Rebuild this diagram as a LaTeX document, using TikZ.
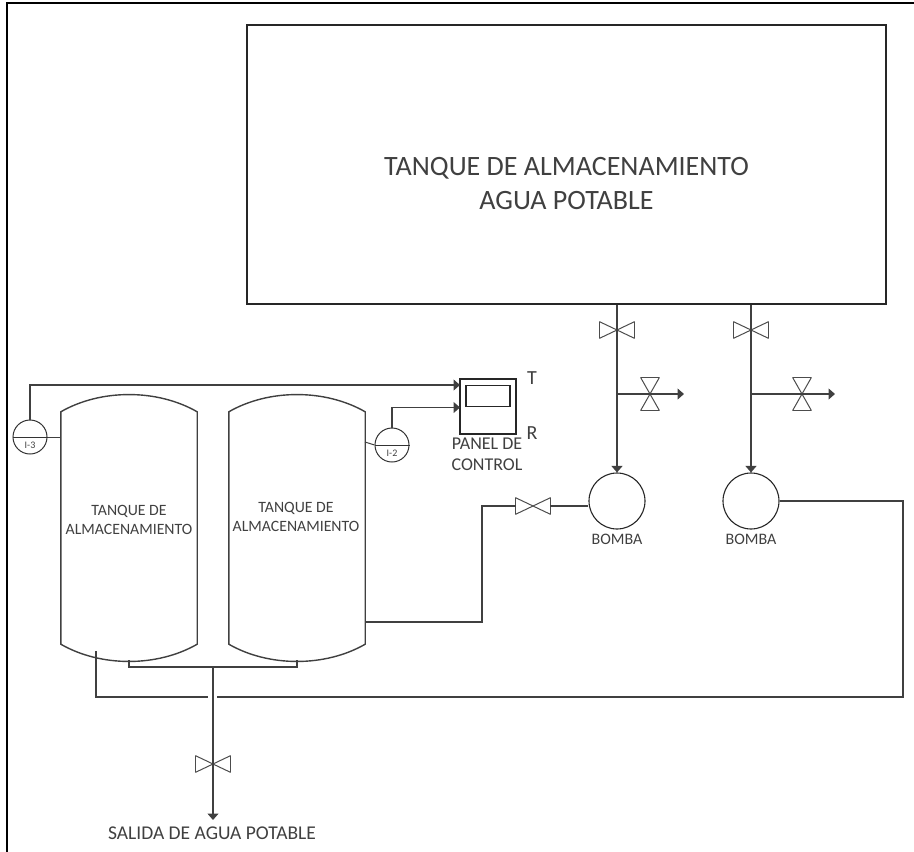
\documentclass[tikz,border=0pt]{standalone}
\usepackage{fontspec}
\setmainfont{Carlito}
\usetikzlibrary{arrows.meta}
\usetikzlibrary{positioning}
\begin{document}
\begin{tikzpicture}[
  x=1pt, y=-1pt,
  every node/.style={text=black!75, inner sep=0pt, align=center},
  pipe/.style={draw=black!75, line width=1.2pt},
  msg/.style={pipe, -{Triangle[length=6.5pt,width=11pt]}},
  tankbody/.style={minimum width=136pt, minimum height=232pt},
  dome/.style={draw=black!75, line width=1.4pt},
  inst/.style={circle, draw=black!80, line width=1pt, minimum size=34pt},
  pump/.style={circle, draw=black!85, line width=1.1pt, minimum size=56pt},
  tanklbl/.style={font=\fontsize{15.75}{19}\selectfont},
  bombalbl/.style={font=\fontsize{16}{18}\selectfont},
  instlbl/.style={font=\fontsize{10}{11}\selectfont},
  valveh/.style={minimum width=34pt, minimum height=16pt, append after command={
    (\tikzlastnode.north west) edge[valveline] (\tikzlastnode.south east)
    (\tikzlastnode.south east) edge[valveline] (\tikzlastnode.north east)
    (\tikzlastnode.north east) edge[valveline] (\tikzlastnode.south west)
    (\tikzlastnode.south west) edge[valveline] (\tikzlastnode.north west)}},
  valvev/.style={minimum width=18pt, minimum height=32pt, append after command={
    (\tikzlastnode.north west) edge[valveline] (\tikzlastnode.south east)
    (\tikzlastnode.south east) edge[valveline] (\tikzlastnode.south west)
    (\tikzlastnode.south west) edge[valveline] (\tikzlastnode.north east)
    (\tikzlastnode.north east) edge[valveline] (\tikzlastnode.north west)}},
  valveline/.style={draw=black!70, line width=1pt, line cap=round}
]
\useasboundingbox (0,0) rectangle (914,852);

% ---------- Page frame ----------
\draw[line width=2pt] (7,852) -- (7,2.5) -- (914,2.5);

% ---------- Storage tank ----------
\node[draw=black!85, line width=1.5pt, minimum width=639pt, minimum height=279pt] (storage) at (566.5,164.5) {};
\node[font=\fontsize{28}{34}\selectfont] (lblstorage) at (566.5,184)
  {TANQUE DE ALMACENAMIENTO\\AGUA POTABLE};

% ---------- Vertical tanks ----------
\node[tankbody] (tank1) at (129,528) {};
\node[tankbody] (tank2) at (297,528) {};
\foreach \t in {tank1,tank2} {
  \draw[dome] (\t.north west)
    .. controls +(40,-23) and +(-40,-23) .. (\t.north east)
    -- (\t.south east)
    .. controls +(-40,23) and +(40,23) .. (\t.south west) -- cycle;
}
\node[tanklbl] (lbl1) at (129,519.5) {TANQUE DE\\ALMACENAMIENTO};
\node[tanklbl] (lbl2) at (296,516.5) {TANQUE DE\\ALMACENAMIENTO};

% ---------- Control panel ----------
\node[draw=black!85, line width=1.2pt, minimum width=56pt, minimum height=55pt] (panel) at (488,406.5) {};
\node[draw=black!85, line width=1.2pt, minimum width=44pt, minimum height=21pt] (screen) at (488,396) {};
\node[font=\fontsize{20}{24}\selectfont] (lblT) at (532,378) {T};
\node[font=\fontsize{20}{24}\selectfont] (lblR) at (532,433) {R};
\node[font=\fontsize{18}{21}\selectfont] (lblpanel) at (487,454.5) {PANEL DE\\CONTROL};
\coordinate (pin1) at (460,385);
\coordinate (pin2) at (460,407.5);

% ---------- Instruments ----------
\node[inst] (i3) at (30,437) {};
\node[inst] (i2) at (392,445) {};
\draw[line width=1pt, draw=black!80] (i3.west) -- (i3.east);
\draw[line width=1pt, draw=black!80] (i2.west) -- (i2.east);
\node[instlbl] (lbli3) at (30,445) {I-3};
\node[instlbl] (lbli2) at (392,453) {I-2};
\coordinate (tap2) at (365,442);
\draw[pipe, line width=1pt] (i3.east) -- (i3.east -| tank1.west);
\draw[pipe, line width=1pt] (tap2) -- (i2.west);
\draw[msg] (i3.north) |- (pin1);
\draw[msg] (i2.north) |- (pin2);

% ---------- Pumps ----------
\node[pump] (pump1) at (617,501) {};
\node[pump] (pump2) at (751,501) {};
\node[bombalbl, below=10pt of pump1.south, anchor=center] (lblb1) {BOMBA};
\node[bombalbl, below=10pt of pump2.south, anchor=center] (lblb2) {BOMBA};

% ---------- Valves ----------
\node[valveh] (va) at (617,330) {};
\node[valveh] (vb) at (751,330) {};
\node[valvev] (vc) at (650,394) {};
\node[valvev] (vd) at (802,394) {};
\node[valveh] (ve) at (533,506) {};
\node[valveh] (vf) at (213,764) {};

% ---------- Feed lines ----------
\draw[msg] (storage.south -| va.center) -- (pump1.north);
\draw[msg] (storage.south -| vb.center) -- (pump2.north);
\coordinate (end1) at (684,394);
\coordinate (end2) at (835,394);
\draw[msg] (va.center |- vc.center) -- (end1);
\draw[msg] (vb.center |- vd.center) -- (end2);

% ---------- Return lines ----------
\coordinate (out2) at (365,622);
\coordinate (riser) at (482,622);
\draw[pipe] (out2) -- (riser) |- (ve.west);
\draw[pipe] (ve.east) -- (ve.east -| pump1.west);
\coordinate (nozL) at (96,651);
\coordinate (gapL) at (208,697);
\coordinate (gapR) at (217,697);
\coordinate (turn) at (903,697);
\draw[pipe] (nozL) |- (gapL);
\draw[pipe] (pump2.east) -| (turn) -- (gapR);

% ---------- Outlet ----------
\coordinate (noz1) at (129,660);
\coordinate (noz2) at (297,660);
\coordinate (tee) at (213,667);
\coordinate (outend) at (213,820);
\draw[pipe] (noz1) |- (tee) -| (noz2);
\draw[msg] (tee) -- (outend);
\node[font=\fontsize{19.5}{23}\selectfont] (lblout) at (212,833.5) {SALIDA DE AGUA POTABLE};

\end{tikzpicture}
\end{document}
